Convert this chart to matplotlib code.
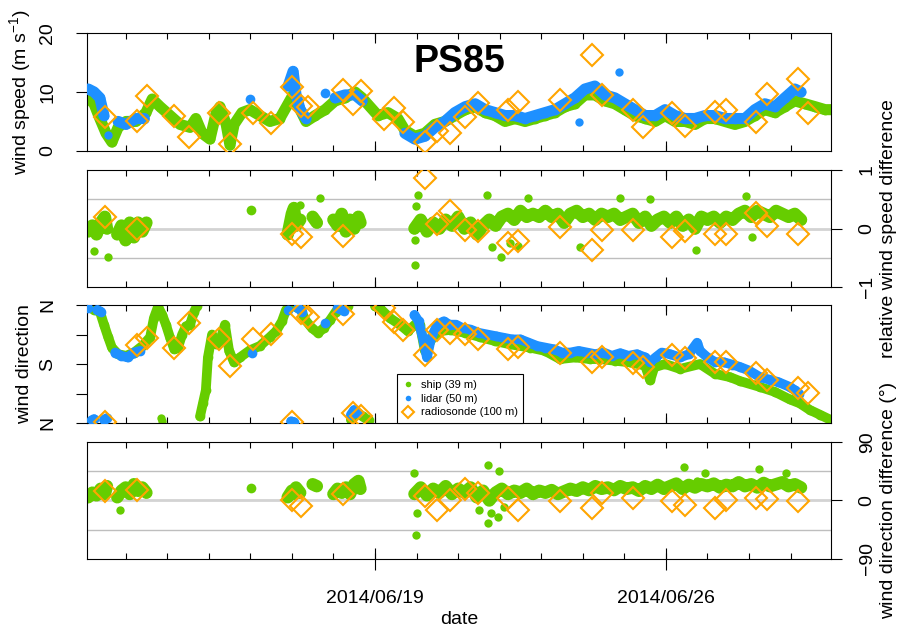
import numpy as np
import matplotlib
matplotlib.use('Agg')
import matplotlib.pyplot as plt
import matplotlib.dates as mdates
from matplotlib.lines import Line2D
from datetime import datetime

plt.rcParams['font.family'] = ['Liberation Sans', 'DejaVu Sans']
plt.rcParams['mathtext.fontset'] = 'custom'
plt.rcParams['mathtext.rm'] = 'Liberation Sans'
plt.rcParams['mathtext.default'] = 'regular'

nan = np.nan
start = datetime(2014, 6, 12)

green = '#66CD00'
blue = '#1E90FF'
orange = '#FFA500'

# ---- data (time in days since 2014/06/12 00:00) ----

# ship (39 m) wind speed
ship_spd_day = [0.10, 0.24, 0.38, 0.53, 0.67, 0.82, 1.01, 1.25, 1.49, 1.64,
                1.83, 2.07, 2.31, 2.55, 2.69, 2.84, 3.03, 3.18, 3.27, 3.42,
                3.51, 3.61, 3.80, 3.99, 4.23, 4.47, 4.71, 4.91, 5.03, 5.20,
                5.34, 5.56, 5.80, 6.04, 6.28, 6.52, 6.69, 6.88, 7.07, 7.31,
                7.55, 7.72, 7.96, 8.20, 8.44, 8.68, 8.92, 9.17, 9.41, 9.65,
                9.89, 10.13, 10.37, 10.61, 10.85, 11.09, 11.33, 11.57, 11.81, 12.05,
                12.29, 12.53, 12.77, 13.01, 13.25, 13.50, 13.74, 13.98, 14.22, 14.46,
                14.70, 14.94, 15.18, 15.42, 15.66, 15.90, 16.14, 16.38, 16.62, 16.86,
                17.10, 17.34, 17.59, 17.83, 17.99]
ship_spd = [9, 8, 5.5, 3, 1.5, 4, 5, 5, 6.5, 8.8,
            7.5, 6, 4.5, 4, 5.5, 3, 2, 6.5, 7.5, 4.5,
            1, 4.5, 6.5, 7, 6, 5, 5.5, 8, 9.5, 7,
            5, 6, 7, 8.5, 9, 10, 9, 7.5, 6, 6.5,
            5.5, 3.5, 2.5, 3, 4.5, 5, 6, 7, 7.5, 6.5,
            6, 5, 5.5, 5, 5.5, 6, 6.5, 7.5, 8, 9.5,
            9.5, 8.5, 8, 7, 6, 5.5, 5, 6, 5, 5,
            4.5, 5.5, 5.5, 5, 4.5, 5, 6, 7, 6.5, 7.5,
            8.5, 8, 7.5, 7, 7]

# lidar (50 m) wind speed
lidar_spd_day = [0.10, 0.24, 0.38, 0.48, 0.60, 0.82, 1.01, 1.25, 1.45, 1.55,
                 3.99, 4.05, 4.91, 5.03, 5.10, 5.20, 5.34, 5.45, 5.80, 5.85,
                 6.04, 6.28, 6.52, 6.69, 6.80, 7.72, 7.96, 8.20, 8.44, 8.68,
                 8.92, 9.17, 9.41, 9.65, 9.89, 10.13, 10.37, 10.61, 10.85, 11.09,
                 11.33, 11.57, 11.81, 12.05, 12.29, 12.53, 12.77, 13.01, 13.25, 13.50,
                 13.74, 13.98, 14.22, 14.46, 14.70, 14.94, 15.18, 15.42, 15.66, 15.90,
                 16.14, 16.38, 16.62, 16.86, 17.10, 17.25]
lidar_spd = [10.5, 10, 9, 6, nan, 5, 4.5, 5.5, 5.5, nan,
             8.8, nan, 11, 13.5, 9.5, 7, 5.5, nan, 9.8, nan,
             9, 9.5, 9.5, 8.5, nan, 3, 2, 2.5, 4, 5,
             6.5, 7.5, 8, 7, 6.5, 6, 6, 5.5, 6, 6.5,
             7, 8, 9, 10.5, 11, 9.5, 9, 8, 7, 6,
             6, 7, 6, 5.5, 5.5, 6, 6, 5.5, 5.5, 5.5,
             7, 8, 7.5, 9, 10.5, 10]
lidar_spd_extra_day = [0.58, 11.90, 12.87]
lidar_spd_extra = [2.7, 4.9, 13.4]

# radiosonde (100 m)
sonde_day = [0.51, 1.27, 1.52, 2.17, 2.53, 3.25, 3.51, 4.07, 4.50, 5.00,
             5.22, 5.39, 6.23, 6.47, 6.66, 7.22, 7.46, 7.67, 8.20, 8.49,
             8.80, 9.17, 9.48, 10.20, 10.44, 11.45, 12.22, 12.46, 13.21, 13.45,
             14.15, 14.46, 15.18, 15.44, 16.17, 16.43, 17.18, 17.42]
sonde_spd = [5.8, 5.1, 9.3, 6.0, 2.3, 6.5, 1.2, 6.5, 4.8, 10.8,
             7.6, 7.4, 10.3, 7.9, 10.2, 5.4, 7.2, 4.9, 1.6, 3.3,
             3.0, 5.8, 8.1, 7.0, 8.3, 8.6, 16.3, 9.5, 7.0, 4.1,
             6.5, 4.2, 6.6, 7.0, 4.9, 9.6, 12.2, 6.4]
sonde_dir = [3, 238, 259, 229, 305, 256, 174, 256, 271, 3,
             335, 323, 332, 31, 21, 351, 308, 284, 207, 284,
             274, 272, 256, 226, 232, 213, 186, 201, 183, 171,
             207, 198, 186, 186, 153, 131, 107, 92]
sonde_dspd = [0.2, 0.0, nan, nan, nan, nan, nan, nan, nan, -0.1,
              -0.15, nan, -0.12, nan, nan, nan, nan, nan, 0.87, 0.07,
              0.3, -0.02, -0.05, -0.24, -0.21, 0.02, -0.36, -0.02, -0.02, nan,
              -0.14, -0.05, -0.09, -0.1, 0.27, 0.05, -0.1, nan]
sonde_ddir = [14.4, 15.4, nan, nan, nan, nan, nan, nan, nan, 0.5,
              -8.7, nan, 10.3, nan, nan, nan, nan, nan, 6.7, -13.9,
              1.5, 17, 11.8, 4.1, -13.9, -1, -11.3, 10.8, 3.1, nan,
              -1, -6.2, -12.3, 1.5, 4.1, 2.6, -1, nan]

# ship wind direction (deg)
ship_dir_day = [0.10, 0.24, 0.38, 0.48, 0.58, 0.67, 0.82, 1.01, 1.20, 1.40,
                1.59, 1.68, 1.78, 1.88, 1.97, 2.07, 2.17, 2.26, 2.36, 2.45,
                2.55, 2.65, 2.72, 2.75, 2.79, 2.86, 2.93, 2.98, 3.08, 3.18,
                3.27, 3.39, 3.49, 3.61, 3.75, 3.99, 4.23, 4.47, 4.62, 4.76,
                4.86, 4.96, 5.10, 5.20, 5.32, 5.48, 5.63, 5.77, 5.92, 6.06,
                6.21, 6.35, 6.40, 6.42, 6.55, 6.70, 6.85, 6.95, 7.00, 7.12,
                7.36, 7.60, 7.79, 7.96, 8.08, 8.20, 8.32, 8.56, 8.80, 9.17,
                9.53, 9.89, 10.25, 10.73, 11.09, 11.45, 11.81, 12.17, 12.41, 12.77,
                13.13, 13.50, 13.62, 13.72, 13.98, 14.34, 14.82, 15.18, 15.54, 15.78,
                16.26, 16.62, 16.98, 17.22, 17.46, 17.71, 17.97]
ship_dir = [355, 345, 340, 300, 262, 230, 210, 205, 215, 235,
            262, 320, 355, 330, 300, 260, 225, 230, 270, 295,
            300, 340, 358, nan, 20, 60, 100, 200, 270, 240,
            250, 300, 220, 185, 200, 222, 235, 262, 280, 310,
            345, 358, 355, 350, 315, 290, 275, 290, 314, 340,
            355, 358, nan, 10, 35, 20, 8, nan, 356, 350,
            320, 300, 280, 300, 300, 220, 250, 280, 284, 275,
            262, 250, 240, 230, 220, 195, 200, 195, 195, 190,
            185, 175, 130, 170, 180, 165, 180, 150, 140, 128,
            110, 95, 72, 60, 40, 25, 9]
ship_dir_extra_day = [1.85, 1.88]
ship_dir_extra = [15, 6]

# lidar wind direction (deg)
lidar_dir_day = [0.10, 0.15, 0.18, 0.24, 0.28, 0.32, 0.40, 0.44, 0.48, 0.55,
                 0.60, 0.75, 0.90, 1.05, 1.20, 1.35, 1.45, 4.05, 4.10, 4.90,
                 4.95, 4.98, 5.05, 5.10, 5.15, 5.25, 5.30, 5.80, 5.85, 6.10,
                 6.25, 6.38, 6.42, 6.50, 6.58, 6.62, 7.95, 8.05, 8.15, 8.25,
                 8.35, 8.50, 8.65, 8.80, 8.95, 9.10, 9.30, 9.50, 9.70, 9.90,
                 10.10, 10.30, 10.50, 10.70, 10.90, 11.10, 11.30, 11.50, 11.70, 11.90,
                 12.10, 12.30, 12.50, 12.70, 12.90, 13.10, 13.30, 13.50, 13.62, 13.75,
                 13.90, 14.10, 14.34, 14.55, 14.75, 14.82, 15.00, 15.18, 15.40, 15.60,
                 15.78, 16.00, 16.26, 16.50, 16.70, 16.98, 17.10, 17.20]
lidar_dir = [352, nan, 8, 12, nan, 345, 340, nan, 10, 15,
             nan, 215, 205, 200, 215, 220, nan, 213, nan, 345,
             nan, 5, 3, nan, 350, 340, nan, 305, nan, 350,
             342, nan, 25, 40, 30, nan, 330, 310, 260, 200,
             260, 300, 310, 300, 300, 290, 285, 275, 270, 265,
             260, 255, 255, 245, 235, 230, 225, 215, 215, 220,
             215, 210, 215, 205, 213, 205, 210, 200, 186, 200,
             215, 210, 200, 210, 245, 220, 200, 186, 185, 178,
             171, 160, 140, 132, 125, 110, 100, 90]

# ship - lidar differences (relative speed, direction)
diff_day = [0.10, 0.20, 0.30, 0.40, 0.50, 0.55, 0.60, 0.80, 0.90, 1.00,
            1.10, 1.20, 1.30, 1.40, 1.50, 1.55, 4.02, 4.06, 4.90, 5.00,
            5.05, 5.10, 5.20, 5.25, 5.50, 5.60, 5.65, 6.00, 6.10, 6.20,
            6.30, 6.40, 6.50, 6.60, 6.65, 6.70,
            7.95, 8.10, 8.25, 8.40, 8.55, 8.70, 8.85, 9.00, 9.15, 9.30,
            9.45, 9.60, 9.75, 9.90, 10.05, 10.20, 10.35, 10.50, 10.65, 10.80,
            10.95, 11.10, 11.25, 11.40, 11.55, 11.70, 11.85, 12.00, 12.15, 12.30,
            12.45, 12.60, 12.75, 12.90, 13.05, 13.20, 13.35, 13.50, 13.65, 13.80,
            13.95, 14.10, 14.25, 14.40, 14.55, 14.70, 14.85, 15.00, 15.15, 15.30,
            15.45, 15.60, 15.75, 15.90, 16.05, 16.20, 16.35, 16.50, 16.65, 16.80,
            16.95, 17.10, 17.25]
ship_dspd = [-0.05, 0.05, -0.1, 0.1, 0.2, 0.0, nan, -0.1, 0.05, -0.2,
             0.1, -0.15, 0.1, -0.05, 0.1, nan, 0.31, nan, -0.1, 0.25,
             0.35, 0.05, 0.15, nan, 0.2, 0.1, nan, 0.15, 0.05, 0.25,
             -0.05, 0.15, 0.0, 0.2, 0.1, nan,
             0.0, 0.15, -0.05, 0.1, 0.0, 0.15, 0.05, 0.2, 0.0, 0.1,
             -0.1, 0.05, 0.15, 0.05, 0.2, 0.25, 0.15, 0.3, 0.2, 0.25,
             0.2, 0.3, 0.2, 0.25, 0.1, 0.25, 0.3, 0.2, 0.25, 0.15,
             0.25, 0.2, 0.25, 0.15, 0.2, 0.25, 0.1, 0.2, 0.05, 0.15,
             0.2, 0.1, 0.2, 0.05, 0.15, 0.0, 0.2, 0.15, 0.2, 0.1,
             0.2, 0.15, 0.25, 0.3, 0.2, 0.3, 0.25, 0.2, 0.3, 0.25,
             0.2, 0.25, 0.15]
ship_ddir = [5, 12, 8, 18, 10, 22, nan, 5, 15, 20,
             10, 25, 15, 20, 12, nan, 19.5, nan, 5, 15,
             10, 20, 12, nan, 25, 22, nan, 10, 18, 12,
             20, 10, 25, 30, 18, nan,
             10, 20, 8, 18, 12, 22, 10, 18, 12, 20,
             5, 15, 0, 12, 18, 10, 15, 12, 18, 10,
             15, 12, 16, 10, 14, 18, 15, 20, 16, 22,
             18, 20, 16, 22, 18, 20, 15, 22, 18, 24,
             18, 22, 26, 18, 24, 20, 25, 22, 26, 20,
             24, 22, 28, 22, 25, 20, 27, 22, 25, 28,
             22, 25, 20]
dspd_out_day = [0.24, 0.58, 5.20, 5.68, 7.96, 8.04, 7.98, 7.97, 9.69, 10.03,
                11.93, 12.90, 13.62, 14.72, 15.93, 9.81, 10.68, 16.07, 10.25, 10.45]
dspd_out = [-0.38, -0.48, 0.41, 0.53, -0.62, 0.58, 0.38, -0.19, 0.58, -0.48,
            -0.31, 0.53, 0.5, -0.36, 0.56, -0.31, 0.53, -0.15, -0.25, -0.3]
ddir_out_day = [0.87, 7.93, 7.99, 9.71, 9.99, 9.71, 9.96, 14.43, 14.94, 16.24,
                16.89, 14.74, 9.50, 9.80, 10.10, 8.00]
ddir_out = [-15, 42.7, -53, 54, 45, -34, -25, 52, 43, 48,
            43, 30, -15, -20, -10, -20]


def tnum(day):
    return mdates.date2num(start) + np.asarray(day, dtype=float)


def band(ax, day, val, color, lw, ms, z):
    # continuous record: thick line plus dots
    ax.plot(tnum(day), val, '-', color=color, lw=lw, solid_capstyle='round',
            solid_joinstyle='round', zorder=z)
    ax.plot(tnum(day), val, 'o', color=color, ms=ms, mew=0, ls='none', zorder=z)


def dots(ax, day, val, color, ms, z):
    ax.plot(tnum(day), val, 'o', color=color, ms=ms, mew=0, ls='none', zorder=z)


def sonde(ax, val):
    ax.plot(tnum(sonde_day), val, 'D', ms=11.5, mfc='none', mec=orange, mew=1.5,
            ls='none', zorder=6)


fig = plt.figure(figsize=(9.03, 6.29), dpi=100)
left, width = 0.0963, 0.8239
ax1 = fig.add_axes([left, 0.7600, width, 0.1876])
ax2 = fig.add_axes([left, 0.5437, width, 0.1860])
ax3 = fig.add_axes([left, 0.3275, width, 0.1876])
ax4 = fig.add_axes([left, 0.1113, width, 0.1860])
axes = [ax1, ax2, ax3, ax4]

# panel 1: wind speed
band(ax1, ship_spd_day, ship_spd, green, 8, 7, 2)
band(ax1, lidar_spd_day, lidar_spd, blue, 8, 7, 3)
dots(ax1, lidar_spd_extra_day, lidar_spd_extra, blue, 6, 3)
sonde(ax1, sonde_spd)
ax1.set_ylim(0, 20)
ax1.text(0.501, 0.754, 'PS85', transform=ax1.transAxes, ha='center', va='center',
         fontsize=27, fontweight='bold')

# panel 2: relative wind speed difference
for yv in (0.5, -0.5):
    ax2.axhline(yv, color='#BEBEBE', lw=1, zorder=0)
ax2.axhline(0, color='#D3D3D3', lw=2, zorder=0)
band(ax2, diff_day, ship_dspd, green, 9, 7, 2)
dots(ax2, dspd_out_day, dspd_out, green, 6, 2)
sonde(ax2, sonde_dspd)
ax2.set_ylim(-1, 1)

# panel 3: wind direction
band(ax3, ship_dir_day, ship_dir, green, 7, 7, 2)
dots(ax3, ship_dir_extra_day, ship_dir_extra, green, 6, 2)
band(ax3, lidar_dir_day, lidar_dir, blue, 7, 7, 3)
sonde(ax3, sonde_dir)
ax3.set_ylim(0, 360)

# panel 4: wind direction difference
for yv in (45, -45):
    ax4.axhline(yv, color='#BEBEBE', lw=1, zorder=0)
ax4.axhline(0, color='#D3D3D3', lw=2, zorder=0)
band(ax4, diff_day, ship_ddir, green, 9, 7, 2)
dots(ax4, ddir_out_day, ddir_out, green, 6, 2)
sonde(ax4, sonde_ddir)
ax4.set_ylim(-90, 90)

# axes styling
major = tnum([7, 14])
for ax in axes:
    ax.set_xlim(tnum(0.07)[()], tnum(17.97)[()])
    for sp in ax.spines.values():
        sp.set_linewidth(0.8)
    ax.xaxis.remove_overlapping_locs = False
    ax.set_xticks(major)
    ax.xaxis.set_minor_locator(mdates.DayLocator())
    ax.tick_params(axis='x', which='minor', direction='in', top=True, bottom=True,
                   length=4, width=0.8)
    ax.tick_params(axis='x', which='major', direction='in', top=True, bottom=True,
                   length=7, width=0.8, labelbottom=False)

ax4.set_xticks(major, ['2014/06/19', '2014/06/26'])
ax4.tick_params(axis='x', which='major', direction='inout', top=False, length=16,
                labelbottom=True, labelsize=14, pad=14)
ax4.set_xlabel('date', fontsize=14, labelpad=3)

ax1.set_yticks([0, 10, 20], ['0', '10', '20'], rotation=90, va='center')
ax3.set_yticks([0, 90, 180, 270, 360], ['N', '', 'S', '', 'N'], rotation=90, va='center')
for ax in (ax1, ax3):
    ax.tick_params(axis='y', direction='out', length=8, width=0.8, labelsize=14, pad=14)

ax2.set_yticks([-1, 0, 1], ['\u22121', '0', '1'], rotation=90, va='center')
ax4.set_yticks([-90, 0, 90], ['\u221290', '0', '90'], rotation=90, va='center')
for ax in (ax2, ax4):
    ax.yaxis.tick_right()
    ax.yaxis.set_label_position('right')
    ax.tick_params(axis='y', direction='out', length=8, width=0.8, labelsize=14, pad=12)

ax1.set_ylabel(r'wind speed (m s$^{-1}$)', fontsize=14)
ax3.set_ylabel('wind direction', fontsize=14)
ax2.set_ylabel('relative wind speed difference', fontsize=14, rotation=90)
ax4.set_ylabel('wind direction difference (\u00b0)', fontsize=14, rotation=90)
for ax in (ax1, ax3):
    ax.yaxis.set_label_coords(-0.073, 0.5)
for ax in (ax2, ax4):
    ax.yaxis.set_label_coords(1.066, 0.5)

# legend
handles = [
    Line2D([], [], marker='o', ls='none', color=green, ms=4, mew=0),
    Line2D([], [], marker='o', ls='none', color=blue, ms=4, mew=0),
    Line2D([], [], marker='D', ls='none', mfc='none', mec=orange, ms=6, mew=1.5),
]
leg = ax3.legend(handles, ['ship (39 m)', 'lidar (50 m)', 'radiosonde (100 m)'],
                 loc='lower left', bbox_to_anchor=(0.417, 0.0), fontsize=8,
                 frameon=True, fancybox=False, framealpha=1, edgecolor='black',
                 borderpad=0.5, handlelength=1.0, handletextpad=0.6,
                 labelspacing=0.35, borderaxespad=0)
leg.get_frame().set_linewidth(0.8)
leg.set_zorder(10)

fig.savefig('out.png', dpi=100)
